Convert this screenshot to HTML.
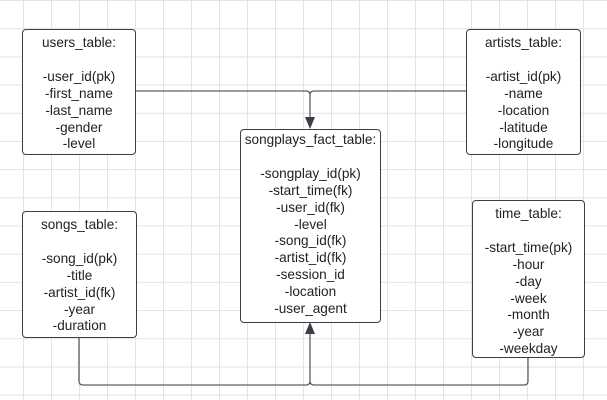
<!DOCTYPE html>
<html><head><style>
body{margin:0;width:607px;height:400px;overflow:hidden;background:#fff;
background-image:linear-gradient(to right,#e3e3e3 1px,transparent 1px),linear-gradient(to bottom,#e3e3e3 1px,transparent 1px);
background-size:28px 28.2px;background-position:23px 0px;position:relative;font-family:"Liberation Sans",sans-serif;}
.b{position:absolute;border:1.5px solid #3a3f47;border-radius:4px;background:#fff;box-sizing:border-box;text-align:center;font-size:13.6px;line-height:16.9px;color:#222;padding-top:5px;white-space:nowrap;}
svg{position:absolute;left:0;top:0}
</style></head><body>
<svg width="607" height="400">
<g fill="none" stroke="#5a5f66" stroke-width="1.3">
<path d="M135 91 H306 Q310 91 310 95 Q310 91 314 91 H466"/>
<path d="M310 95 V121"/>
<path d="M79 337 V381 Q79 385 83 385 H306 Q310 385 310 381 Q310 385 314 385 H524 Q528 385 528 381 V357"/>
<path d="M310 381 V330"/>
</g>
<polygon points="305,117 315,117 310,129" fill="#3a3f47"/>
<polygon points="305,334 315,334 310,322" fill="#3a3f47"/>
</svg>
<div class="b" style="left:22px;top:29px;width:114px;height:126px">users_table:<br><br>-user_id(pk)<br>-first_name<br>-last_name<br>-gender<br>-level</div>
<div class="b" style="left:466px;top:29px;width:115px;height:126px">artists_table:<br><br>-artist_id(pk)<br>-name<br>-location<br>-latitude<br>-longitude</div>
<div class="b" style="left:240px;top:129px;width:141px;height:194px;padding-top:2px">songplays_fact_table:<br><br>-songplay_id(pk)<br>-start_time(fk)<br>-user_id(fk)<br>-level<br>-song_id(fk)<br>-artist_id(fk)<br>-session_id<br>-location<br>-user_agent</div>
<div class="b" style="left:22px;top:211px;width:115px;height:127px">songs_table:<br><br>-song_id(pk)<br>-title<br>-artist_id(fk)<br>-year<br>-duration</div>
<div class="b" style="left:472px;top:200px;width:113px;height:158px">time_table:<br><br>-start_time(pk)<br>-hour<br>-day<br>-week<br>-month<br>-year<br>-weekday</div>
</body></html>
